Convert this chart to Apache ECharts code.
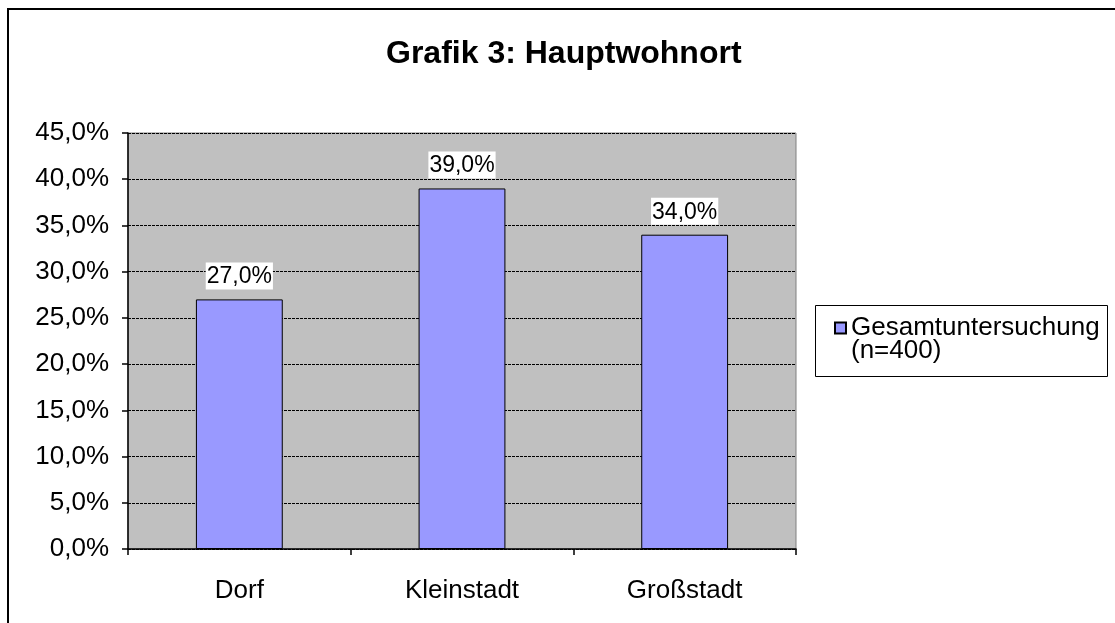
<!DOCTYPE html>
<html>
<head>
<meta charset="utf-8">
<script src="https://cdn.jsdelivr.net/npm/echarts@6/dist/echarts.min.js"></script>
<style>
  html, body { margin: 0; padding: 0; background: #fff; }
  #chart { width: 1115px; height: 623px; }
</style>
</head>
<body>
<div id="chart"></div>
<script>
// Hauptwohnort - Anteile in Prozent
const categories = ['Dorf', 'Kleinstadt', 'Großstadt']
const values = [27.0, 39.0, 34.0]
const seriesName = 'Gesamtuntersuchung (n=400)'
const yMin = 0
const yMax = 45
const yStep = 5

const fontFamily = 'Arial, "Liberation Sans", sans-serif'
const pct = v => v.toFixed(1).replace('.', ',') + '%'

const chart = echarts.init(document.getElementById('chart'))
chart.setOption({
  animation: false,
  backgroundColor: '#fff',
  title: {
    text: 'Grafik 3: Hauptwohnort',
    left: 386,
    top: 38,
    padding: 0,
    textStyle: { fontFamily, fontSize: 32, fontWeight: 'bold', color: '#000' },
  },
  graphic: [
    {
      // outer chart frame
      type: 'rect',
      shape: { x: 8, y: 9, width: 1200, height: 700 },
      style: { fill: 'none', stroke: '#000', lineWidth: 2 },
      silent: true,
    },
    {
      // legend frame
      type: 'rect',
      shape: { x: 815.5, y: 305.5, width: 292, height: 71 },
      style: { fill: 'none', stroke: '#000', lineWidth: 1 },
      silent: true,
    },
  ],
  legend: {
    data: [seriesName],
    left: 834,
    top: 292,
    padding: 0,
    icon: 'rect',
    itemWidth: 11,
    itemHeight: 11,
    // empty first line keeps the icon level with the first text line
    formatter: name => {
      const i = name.indexOf(' (')
      return '{e| }\n{a|' + name.slice(0, i) + '}\n{a|' + name.slice(i + 1) + '}'
    },
    textStyle: {
      fontFamily,
      fontSize: 26,
      color: '#000',
      rich: {
        e: { fontFamily, fontSize: 26, lineHeight: 23 },
        a: { fontFamily, fontSize: 26, lineHeight: 23, color: '#000' },
      },
    },
  },
  grid: {
    left: 128,
    top: 133,
    right: 319,
    bottom: 74,
    show: true,
    backgroundColor: '#c0c0c0',
    borderColor: '#808080',
    borderWidth: 1,
  },
  xAxis: {
    type: 'category',
    data: categories,
    axisLine: { lineStyle: { color: '#000', width: 1.5 } },
    axisTick: { show: true, length: 6, lineStyle: { color: '#000', width: 1.5 } },
    axisLabel: { margin: 29, fontFamily, fontSize: 26, color: '#000' },
  },
  yAxis: {
    type: 'value',
    min: yMin,
    max: yMax,
    interval: yStep,
    axisLine: { show: true, lineStyle: { color: '#000', width: 1.5 } },
    axisTick: { show: true, length: 6, lineStyle: { color: '#000', width: 1.5 } },
    axisLabel: { margin: 19, fontFamily, fontSize: 26, color: '#000', formatter: pct },
    splitLine: { show: true, lineStyle: { color: '#000', type: [3, 1], width: 1 } },
  },
  series: [
    {
      name: seriesName,
      type: 'bar',
      data: values,
      barWidth: '39%',
      itemStyle: { color: '#9999ff', borderColor: '#000', borderWidth: 1 },
      label: {
        show: true,
        position: 'top',
        distance: 10,
        fontFamily,
        fontSize: 23,
        color: '#000',
        backgroundColor: '#fff',
        padding: [3, 1, 1, 1],
        formatter: p => pct(p.value),
      },
    },
  ],
})
</script>
</body>
</html>
